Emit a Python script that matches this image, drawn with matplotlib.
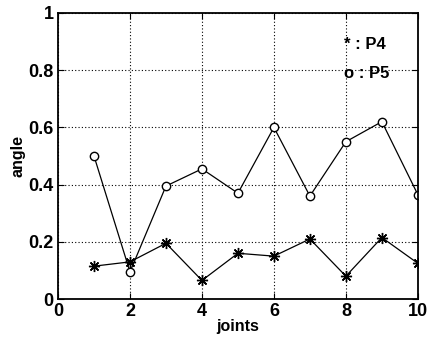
import matplotlib
matplotlib.use('Agg')
import matplotlib.pyplot as plt

joints = [1, 2, 3, 4, 5, 6, 7, 8, 9, 10]
p4 = [0.115, 0.13, 0.195, 0.065, 0.16, 0.15, 0.21, 0.08, 0.215, 0.125]
p5 = [0.50, 0.095, 0.395, 0.455, 0.37, 0.60, 0.36, 0.55, 0.62, 0.365]

x_ticks = [0, 2, 4, 6, 8, 10]
y_ticks = [0, 0.2, 0.4, 0.6, 0.8, 1]
y_tick_labels = ['0', '0.2', '0.4', '0.6', '0.8', '1']


def graph_data():
    plt.rcParams['font.family'] = ['Liberation Sans', 'DejaVu Sans']
    plt.rcParams['font.weight'] = 'bold'
    plt.rcParams['axes.labelweight'] = 'bold'

    fig = plt.figure(figsize=(4.33, 3.41), dpi=100)
    ax = fig.add_axes([0.134, 0.123, 0.831, 0.839])

    # asterisk markers for P4, open circles for P5
    ax.plot(joints, p4, color='black', lw=0.9, marker=(8, 2, 0), ms=8, mew=1.0)
    ax.plot(joints, p5, color='black', lw=0.9, marker='o', ms=6,
            mfc='white', mew=1.0)

    ax.set_xlim(0, 10)
    ax.set_ylim(0, 1)
    ax.set_xticks(x_ticks)
    ax.set_yticks(y_ticks)
    ax.set_yticklabels(y_tick_labels)
    ax.tick_params(direction='in', length=4, labelsize=13, top=True, right=True, pad=3)
    ax.grid(True, color='black', linestyle=(0, (1, 2)), linewidth=0.8)
    for s in ax.spines.values():
        s.set_linewidth(1.3)

    ax.set_xlabel('joints', fontsize=11.5, labelpad=-1)
    ax.set_ylabel('angle', fontsize=11.5, labelpad=2)

    # hand-made legend, Matlab style
    ax.text(7.95, 0.89, '* : P4', fontsize=12, va='center', ha='left')
    ax.text(7.95, 0.79, 'o : P5', fontsize=12, va='center', ha='left')

    fig.savefig('out.png', dpi=100)


if __name__ == '__main__':
    graph_data()
